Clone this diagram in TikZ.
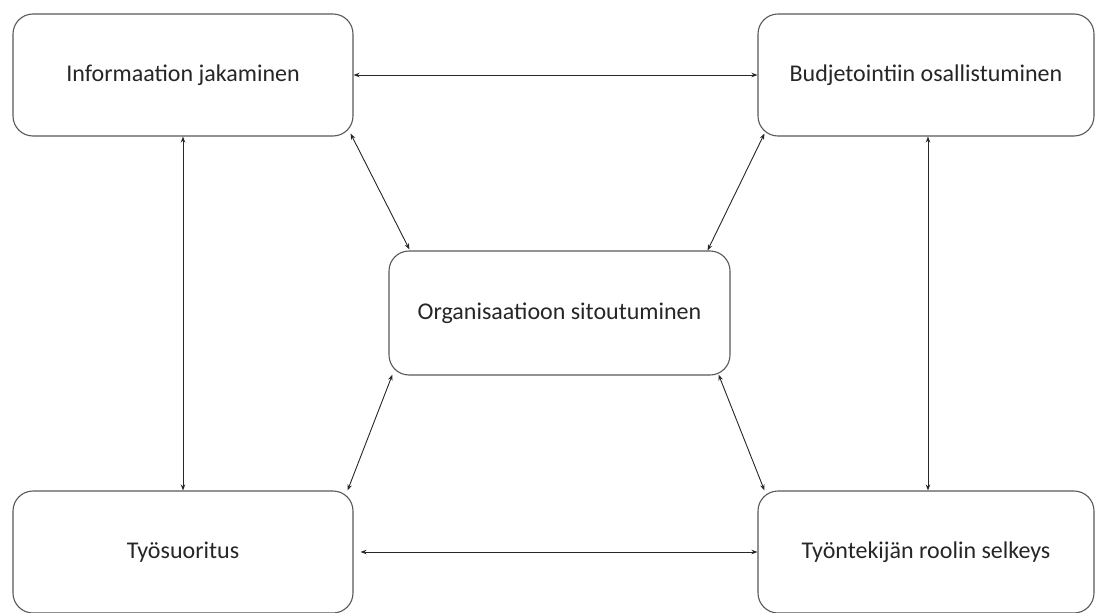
\documentclass[tikz,border=0pt]{standalone}
\usepackage{fontspec}
\setmainfont{Carlito}
\usetikzlibrary{arrows.meta}
\begin{document}
\begin{tikzpicture}[x=1pt,y=-1pt,
  box/.style={draw=black!65, line width=1.1pt, rounded corners=20pt, fill=white,
    font=\fontsize{24}{28}\selectfont, text=black!85, inner sep=0pt},
  link/.style={draw=black!85, line width=0.9pt, {Stealth[length=6pt,width=4.5pt]}-{Stealth[length=6pt,width=4.5pt]}}]
  \useasboundingbox (0,0) rectangle (1096,613);
  % five factors
  \node[box, minimum width=340pt, minimum height=122pt] (tl) at (183,75) {Informaation jakaminen};
  \node[box, minimum width=336pt, minimum height=122pt] (tr) at (926,75) {Budjetointiin osallistuminen};
  \node[box, minimum width=341pt, minimum height=124pt] (cn) at (559.5,313) {Organisaatioon sitoutuminen};
  \node[box, minimum width=340pt, minimum height=122pt] (bl) at (183,552) {Työsuoritus};
  \node[box, minimum width=336pt, minimum height=122pt] (br) at (926,552) {Työntekijän roolin selkeys};
  % links between the factors
  \draw[link] (tl.east) -- (tr.west);
  \draw[link] ([xshift=7pt]bl.east) -- (br.west);
  \draw[link] (tl.south) -- (bl.north);
  \draw[link] ([xshift=2pt]tr.south) -- ([xshift=2pt]br.north);
  \draw[link] ([xshift=-3pt,yshift=3pt]tl.south east) -- ([xshift=21pt,yshift=1pt]cn.north west);
  \draw[link] ([xshift=7pt,yshift=3pt]tr.south west) -- ([xshift=-23pt]cn.north east);
  \draw[link] ([xshift=4pt,yshift=1pt]cn.south west) -- ([xshift=-6pt]bl.north east);
  \draw[link] ([xshift=-12pt,yshift=1pt]cn.south east) -- ([xshift=7pt]br.north west);
\end{tikzpicture}
\end{document}
